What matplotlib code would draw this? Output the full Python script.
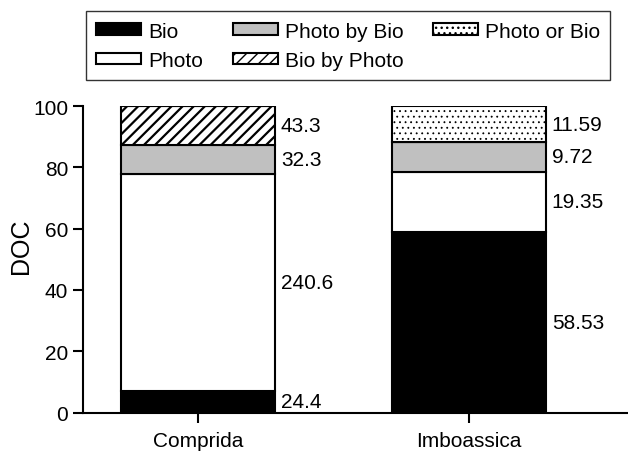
import numpy as np
import matplotlib
matplotlib.use("Agg")
import matplotlib.pyplot as plt

plt.rcParams['font.family'] = ['Liberation Sans', 'DejaVu Sans']

sites = ["Comprida", "Imboassica"]
components = ["Bio", "Photo", "Photo by Bio", "Bio by Photo", "Photo or Bio"]
# DOC values written next to each segment (0 = segment absent)
comprida = [24.4, 240.6, 32.3, 43.3, 0]
imboassica = [58.53, 19.35, 9.72, 0, 11.59]
labels_c = ["24.4", "240.6", "32.3", "43.3", ""]
labels_i = ["58.53", "19.35", "9.72", "", "11.59"]

faces = ["black", "white", "#c0c0c0", "white", "white"]
hatches = [None, None, None, "///", "..."]
hatch_lw = [1.0, 1.0, 1.0, 1.6, 0.6]

values = np.array([comprida, imboassica])
pct = values / values.sum(axis=1, keepdims=True) * 100

fig = plt.figure(figsize=(6.28, 4.52), dpi=100)
ax = fig.add_axes([0.132, 0.085, 0.868, 0.678])

x = np.arange(len(sites))
w = 0.568
bottom = np.zeros(len(sites))
handles = []
for j, name in enumerate(components):
    with plt.rc_context({'hatch.linewidth': hatch_lw[j]}):
        h = ax.bar(x, pct[:, j], w, bottom=bottom, color=faces[j], edgecolor="black",
                   linewidth=1.5, hatch=hatches[j], label=name)
    handles.append(h)
    for i, lab in enumerate([labels_c, labels_i]):
        if lab[j]:
            ax.text(x[i] + w / 2 + 0.022, bottom[i] + pct[i, j] / 2, lab[j],
                    ha="left", va="center", fontsize=15)
    bottom += pct[:, j]

ax.set_xlim(-0.424, 1.587)
ax.set_ylim(0, 100)
ax.set_xticks(x)
ax.set_xticklabels(sites, fontsize=15)
ax.set_yticks([0, 20, 40, 60, 80, 100])
ax.tick_params(axis="y", labelsize=15, width=1.5, length=7)
ax.tick_params(axis="x", width=1.5, length=7, pad=6)
ax.set_ylabel("DOC", fontsize=18)
ax.yaxis.set_label_coords(-0.092, 0.545)
for s in ["top", "right"]:
    ax.spines[s].set_visible(False)
for s in ["left", "bottom"]:
    ax.spines[s].set_linewidth(1.5)

leg = fig.legend(handles=handles, labels=components, ncol=3, loc="upper left",
                 bbox_to_anchor=(0.137, 0.973), fontsize=15, frameon=True,
                 fancybox=False, edgecolor="black", handlelength=2.15,
                 handleheight=0.48, columnspacing=1.42, handletextpad=0.34,
                 borderpad=0.5, labelspacing=0.5, borderaxespad=0)
leg.get_frame().set_linewidth(1.0)

fig.savefig("out.png", dpi=100)
